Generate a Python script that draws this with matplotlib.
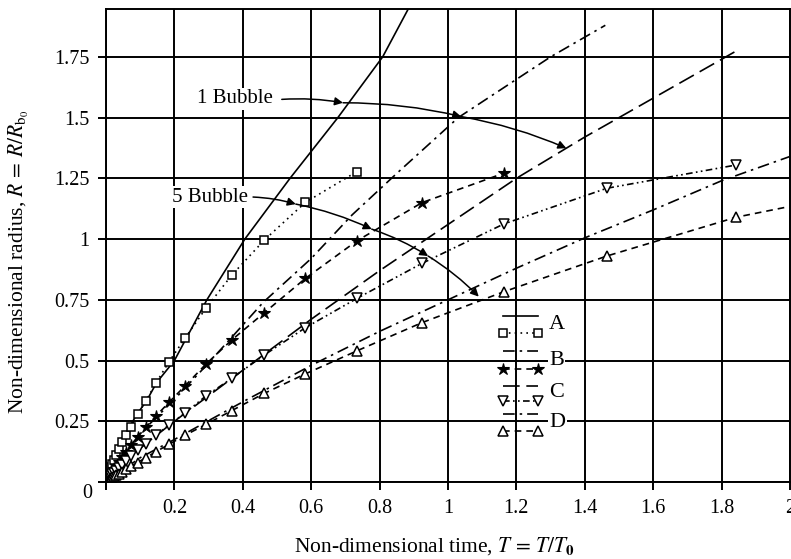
import matplotlib.pyplot as plt
import numpy as np

plt.rcParams['font.family'] = 'Liberation Serif'
plt.rcParams['mathtext.fontset'] = 'stix'

# single bubble curves (lines only)
tA1 = [0, 0.02, 0.053, 0.089, 0.119, 0.148, 0.2, 0.295, 0.406, 0.538, 0.678, 0.809, 0.9]
rA1 = [0, 0.09, 0.187, 0.276, 0.335, 0.409, 0.5, 0.75, 1.0, 1.25, 1.5, 1.75, 1.99]
tB1 = [0, 0.05, 0.1, 0.2, 0.3, 0.46, 0.6, 0.72, 0.85, 1.03, 1.3, 1.46]
rB1 = [0, 0.11, 0.2, 0.34, 0.49, 0.74, 0.92, 1.1, 1.27, 1.5, 1.75, 1.88]
tC1 = [0, 0.05, 0.1, 0.2, 0.4, 0.6, 0.8, 1.0, 1.2, 1.4, 1.6, 1.8, 1.85]
rC1 = [0, 0.08, 0.14, 0.25, 0.46, 0.67, 0.87, 1.06, 1.25, 1.42, 1.58, 1.74, 1.78]
tD1 = [0, 0.05, 0.1, 0.2, 0.4, 0.6, 0.8, 1.0, 1.2, 1.4, 1.6, 1.8, 2.0]
rD1 = [0, 0.05, 0.1, 0.175, 0.33, 0.48, 0.62, 0.75, 0.88, 1.005, 1.12, 1.24, 1.34]

# five bubble runs (lines with symbols)
tA5 = [0.0116, 0.0146, 0.0184, 0.0232, 0.0292, 0.0368, 0.0463, 0.0583, 0.0734, 0.0924,
       0.1163, 0.1464, 0.1843, 0.232, 0.292, 0.368, 0.463, 0.583, 0.734]
rA5 = [0.05, 0.062, 0.075, 0.09, 0.11, 0.135, 0.163, 0.192, 0.228, 0.279,
       0.333, 0.408, 0.495, 0.594, 0.715, 0.852, 0.996, 1.151, 1.278]
tB5 = [0.0116, 0.0146, 0.0184, 0.0232, 0.0292, 0.0368, 0.0463, 0.0583, 0.0734, 0.0924,
       0.1163, 0.1464, 0.1843, 0.232, 0.292, 0.368, 0.463, 0.583, 0.734, 0.924, 1.163]
rB5 = [0.028, 0.035, 0.044, 0.054, 0.067, 0.083, 0.102, 0.125, 0.152, 0.185,
       0.225, 0.272, 0.328, 0.397, 0.485, 0.585, 0.697, 0.838, 0.993, 1.15, 1.271]
tC5 = [0.0116, 0.0146, 0.0184, 0.0232, 0.0292, 0.0368, 0.0463, 0.0583, 0.0734, 0.0924,
       0.1163, 0.1464, 0.1843, 0.232, 0.292, 0.368, 0.463, 0.583, 0.734, 0.924, 1.163,
       1.464, 1.843]
rC5 = [0.02, 0.025, 0.031, 0.038, 0.047, 0.058, 0.071, 0.087, 0.106, 0.13,
       0.158, 0.193, 0.235, 0.285, 0.354, 0.427, 0.523, 0.635, 0.756, 0.9, 1.062,
       1.209, 1.305]
tD5 = [0.0116, 0.0146, 0.0184, 0.0232, 0.0292, 0.0368, 0.0463, 0.0583, 0.0734, 0.0924,
       0.1163, 0.1464, 0.1843, 0.232, 0.292, 0.368, 0.463, 0.583, 0.734, 0.924, 1.163,
       1.464, 1.843, 2.32]
rD5 = [0.012, 0.015, 0.019, 0.023, 0.028, 0.034, 0.042, 0.052, 0.065, 0.08,
       0.1, 0.125, 0.155, 0.193, 0.237, 0.294, 0.365, 0.445, 0.54, 0.656, 0.783,
       0.93, 1.09, 1.225]

xticks = [0, 0.2, 0.4, 0.6, 0.8, 1.0, 1.2, 1.4, 1.6, 1.8, 2.0]
xlabels = ['', '0.2', '0.4', '0.6', '0.8', '1', '1.2', '1.4', '1.6', '1.8', '2']
yticks = [0, 0.25, 0.5, 0.75, 1.0, 1.25, 1.5, 1.75]
ylabels = ['', '0.25', '0.5', '0.75', '1', '1.25', '1.5', '1.75']

# arrow paths for the two annotations
path1 = [(0.514, 1.575), (0.693, 1.561), (1.039, 1.504), (1.346, 1.374)]
path5 = [(0.43, 1.173), (0.555, 1.144), (0.777, 1.041), (0.942, 0.930), (1.09, 0.763)]

dashdot = (0, (7, 3, 1.5, 3))
dash = (0, (4, 3))
longdash = (0, (10, 4))
dot = (0, (1, 2.5))
dashdotdot = (0, (4, 2, 1, 2, 1, 2))

fig = plt.figure(figsize=(7.91, 5.59), dpi=100)
ax = fig.add_axes([106 / 791, 77 / 559, 684 / 791, 473 / 559])

lw = 1.2
ax.plot(tA1, rA1, color='black', lw=lw, ls='-')
ax.plot(tB1, rB1, color='black', lw=lw, ls=dashdot)
ax.plot(tC1, rC1, color='black', lw=lw, ls=longdash)
ax.plot(tD1, rD1, color='black', lw=lw, ls=dashdot)

ax.plot(tA5, rA5, color='black', lw=lw, ls=dot, marker='s', ms=6, mfc='white', mew=1.1)
ax.plot(tB5, rB5, color='black', lw=lw, ls=dash, marker='*', ms=9, mfc='black', mew=0.8)
ax.plot(tC5, rC5, color='black', lw=lw, ls=dashdotdot, marker='v', ms=7, mfc='white', mew=1.1)
ax.plot(tD5, rD5, color='black', lw=lw, ls=dash, marker='^', ms=7, mfc='white', mew=1.1)

ax.set_xlim(0, 2.0)
ax.set_ylim(0, 1.947)
ax.set_xticks(xticks)
ax.set_xticklabels(xlabels)
ax.set_yticks(yticks)
ax.set_yticklabels(ylabels)
ax.tick_params(direction='out', length=6, width=1.4, pad=6, labelsize=14.5)
ax.grid(True, color='black', lw=1.4)
ax.set_axisbelow(True)
for s in ax.spines.values():
    s.set_linewidth(1.4)

ax.annotate('0', xy=(0, 0), xytext=(-19, -12), textcoords='offset pixels',
            ha='center', va='center', fontsize=14.5)

ax.set_xlabel(r'Non-dimensional time, $T\,=\,T/T_{\mathbf{0}}$', fontsize=15.5)
ax.set_ylabel(r'Non-dimensional radius, $R\,=\,R/R_{\mathrm{b}_{0}}$', fontsize=15.5)
ax.xaxis.set_label_coords(0.48, -0.112)
ax.yaxis.set_label_coords(-0.11, 0.465)

# annotation arrows, an arrowhead where each curve is crossed
arrow = dict(arrowstyle='-|>', color='black', lw=1.1, shrinkA=0, shrinkB=0,
             mutation_scale=12, connectionstyle='arc3,rad=-0.06')
for path in (path1, path5):
    for p0, p1 in zip(path[:-1], path[1:]):
        ax.annotate('', xy=p1, xytext=p0, arrowprops=arrow)
box = dict(facecolor='white', edgecolor='none', pad=1)
ax.text(0.488, 1.577, '1 Bubble', ha='right', va='center', fontsize=15, bbox=box)
ax.text(0.415, 1.173, '5 Bubble', ha='right', va='center', fontsize=15, bbox=box)

# hand-made key
tr = ax.transAxes
kx = [0.58, 0.632]
ax.plot(kx, [0.351, 0.351], color='black', lw=lw, ls='-', transform=tr)
ax.plot(kx, [0.315, 0.315], color='black', lw=lw, ls=dot, marker='s', ms=6,
        mfc='white', mew=1.1, transform=tr)
ax.plot(kx, [0.277, 0.277], color='black', lw=lw, ls=dashdot, transform=tr)
ax.plot(kx, [0.239, 0.239], color='black', lw=lw, ls=dash, marker='*', ms=9,
        mfc='black', mew=0.8, transform=tr)
ax.plot(kx, [0.203, 0.203], color='black', lw=lw, ls=longdash, transform=tr)
ax.plot(kx, [0.171, 0.171], color='black', lw=lw, ls=dashdotdot, marker='v', ms=7,
        mfc='white', mew=1.1, transform=tr)
ax.plot(kx, [0.144, 0.144], color='black', lw=lw, ls=dashdot, transform=tr)
ax.plot(kx, [0.108, 0.108], color='black', lw=lw, ls=dash, marker='^', ms=7,
        mfc='white', mew=1.1, transform=tr)
for lab, yy in zip(['A', 'B', 'C', 'D'], [0.332, 0.256, 0.190, 0.125]):
    ax.text(0.648, yy, lab, transform=tr, ha='left', va='center', fontsize=16, bbox=box)

fig.savefig('out.png', dpi=100)
